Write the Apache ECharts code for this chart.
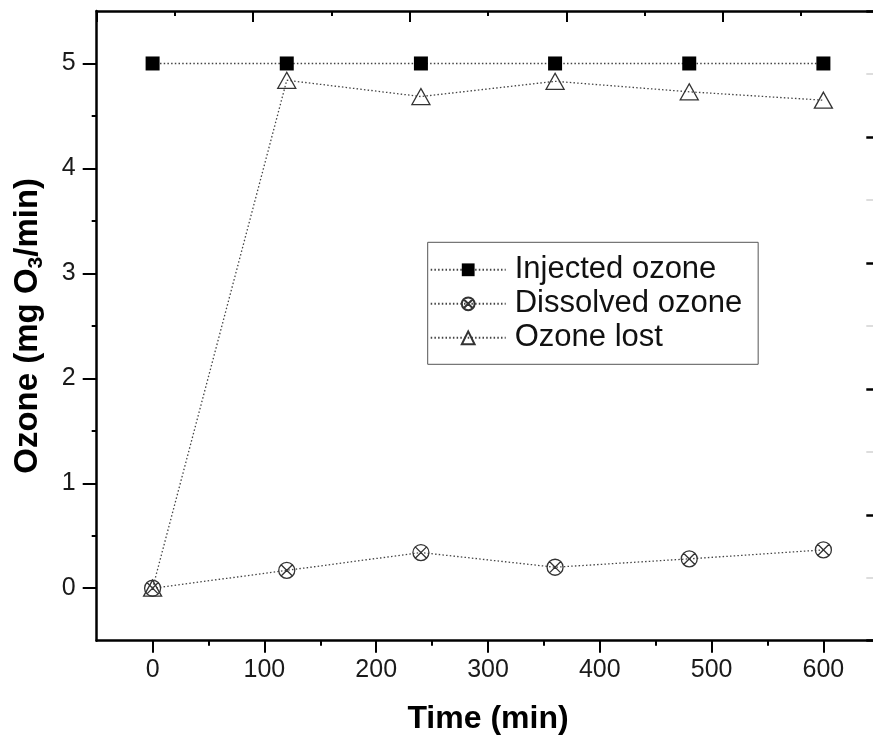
<!DOCTYPE html>
<html>
<head>
<meta charset="utf-8">
<script src="https://cdn.jsdelivr.net/npm/echarts@6/dist/echarts.min.js"></script>
<style>html,body{margin:0;padding:0;background:#fff;overflow:hidden;}#c{width:890px;height:740px;}</style>
</head>
<body>
<div id="c"></div>
<script>
// Data
const timeMin = [0, 120, 240, 360, 480, 600];
const injected = [5, 5, 5, 5, 5, 5];
const dissolved = [0, 0.17, 0.34, 0.2, 0.28, 0.365];
const lost = [0, 4.84, 4.685, 4.83, 4.73, 4.65];
const seriesNames = ['Injected ozone', 'Dissolved ozone', 'Ozone lost'];
const xMajor = [0, 100, 200, 300, 400, 500, 600];
const xMinor = [50, 150, 250, 350, 450, 550];
const yMajor = [0, 1, 2, 3, 4, 5];
const yMinor = [0.5, 1.5, 2.5, 3.5, 4.5];

const pair = (xs, ys) => xs.map((x, i) => [x, ys[i]]);
const FONT = 'Liberation Sans, Arial, sans-serif';
const circX = 'path://M0,10A10,10,0,1,1,20,10A10,10,0,1,1,0,10ZM2.93,2.93L17.07,17.07M17.07,2.93L2.93,17.07';
const lineStyle = {color: '#444', width: 1.3, type: [1.5, 2.2]};
const axisLine = {show: true, onZero: false, lineStyle: {color: '#000', width: 2.5}};
const hiddenLine = {show: false, onZero: false};

const chart = echarts.init(document.getElementById('c'), null, {renderer: 'canvas'});
chart.setOption({
  animation: false,
  backgroundColor: '#fff',
  grid: {left: 96.7, top: 11, width: 782.6, height: 629.7, containLabel: false},
  xAxis: [
    {type: 'value', position: 'bottom', min: -50, max: 650, interval: 50,
     axisLine: axisLine, splitLine: {show: false},
     axisTick: {show: true, customValues: xMajor, length: 12, lineStyle: {color: '#000', width: 2}},
     axisLabel: {show: true, customValues: xMajor, margin: 17, fontSize: 25, color: '#1a1a1a', fontFamily: FONT},
     name: 'Time (min)', nameLocation: 'middle', nameGap: 62,
     nameTextStyle: {fontSize: 32, fontWeight: 'bold', color: '#000', fontFamily: FONT}},
    {type: 'value', position: 'bottom', offset: 0, min: -50, max: 650, interval: 50,
     axisLine: hiddenLine, splitLine: {show: false},
     axisTick: {show: true, customValues: xMinor, length: 5, lineStyle: {color: '#000', width: 2}},
     axisLabel: {show: false}},
    {type: 'value', position: 'top', offset: 0, min: 0, max: 10, interval: 2,
     axisLine: axisLine, splitLine: {show: false},
     axisTick: {show: true, inside: true, length: 11, lineStyle: {color: '#000', width: 2}},
     minorTick: {show: true, splitNumber: 2, length: 5, lineStyle: {color: '#000', width: 2}},
     axisLabel: {show: false}}
  ],
  yAxis: [
    {type: 'value', position: 'left', min: -0.5, max: 5.5, interval: 0.5,
     axisLine: axisLine, splitLine: {show: false},
     axisTick: {show: true, customValues: yMajor, length: 14, lineStyle: {color: '#000', width: 2}},
     axisLabel: {show: true, customValues: yMajor, margin: 21, fontSize: 25, color: '#1a1a1a', fontFamily: FONT},
     name: '{a|Ozone (mg O}{s|3}{a|/min)}', nameLocation: 'middle', nameGap: 50, nameRotate: 90,
     nameTextStyle: {fontFamily: FONT, rich: {
       a: {fontSize: 33, fontWeight: 'bold', color: '#000', lineHeight: 38, fontFamily: FONT},
       s: {fontSize: 21, fontWeight: 'bold', color: '#000', verticalAlign: 'bottom', fontFamily: FONT}
     }}},
    {type: 'value', position: 'left', offset: 0, min: -0.5, max: 5.5, interval: 0.5,
     axisLine: hiddenLine, splitLine: {show: false},
     axisTick: {show: true, customValues: yMinor, length: 5, lineStyle: {color: '#000', width: 2}},
     axisLabel: {show: false}},
    {type: 'value', position: 'right', offset: 0, min: 0, max: 5, interval: 1,
     axisLine: axisLine, splitLine: {show: false},
     axisTick: {show: true, inside: true, length: 13, lineStyle: {color: '#000', width: 2.5}},
     minorTick: {show: true, splitNumber: 2, length: 13, lineStyle: {color: '#ddd', width: 2}},
     axisLabel: {show: false}}
  ],
  legend: {
    orient: 'vertical', left: 427.7, top: 242.3,
    data: seriesNames,
    itemWidth: 75, itemHeight: 16, itemGap: 3,
    padding: [12, 16, 11, 2],
    borderColor: '#555', borderWidth: 1,
    textStyle: {fontSize: 31, color: '#111', fontFamily: FONT, padding: [0, 0, 0, 4]}
  },
  series: [
    {name: seriesNames[0], type: 'line', data: pair(timeMin, injected), xAxisIndex: 0, yAxisIndex: 0,
     symbol: 'rect', symbolSize: 14, itemStyle: {color: '#000'}, lineStyle: lineStyle, z: 3},
    {name: seriesNames[1], type: 'line', data: pair(timeMin, dissolved), xAxisIndex: 0, yAxisIndex: 0,
     symbol: circX, symbolSize: 16, symbolKeepAspect: true,
     itemStyle: {color: 'rgba(0,0,0,0)', borderColor: '#333', borderWidth: 1.3}, lineStyle: lineStyle, z: 2},
    {name: seriesNames[2], type: 'line', data: pair(timeMin, lost), xAxisIndex: 0, yAxisIndex: 0,
     symbol: 'triangle', symbolSize: [18, 16],
     itemStyle: {color: 'rgba(255,255,255,0)', borderColor: '#333', borderWidth: 1.3}, lineStyle: lineStyle, z: 4}
  ]
});
</script>
</body>
</html>
